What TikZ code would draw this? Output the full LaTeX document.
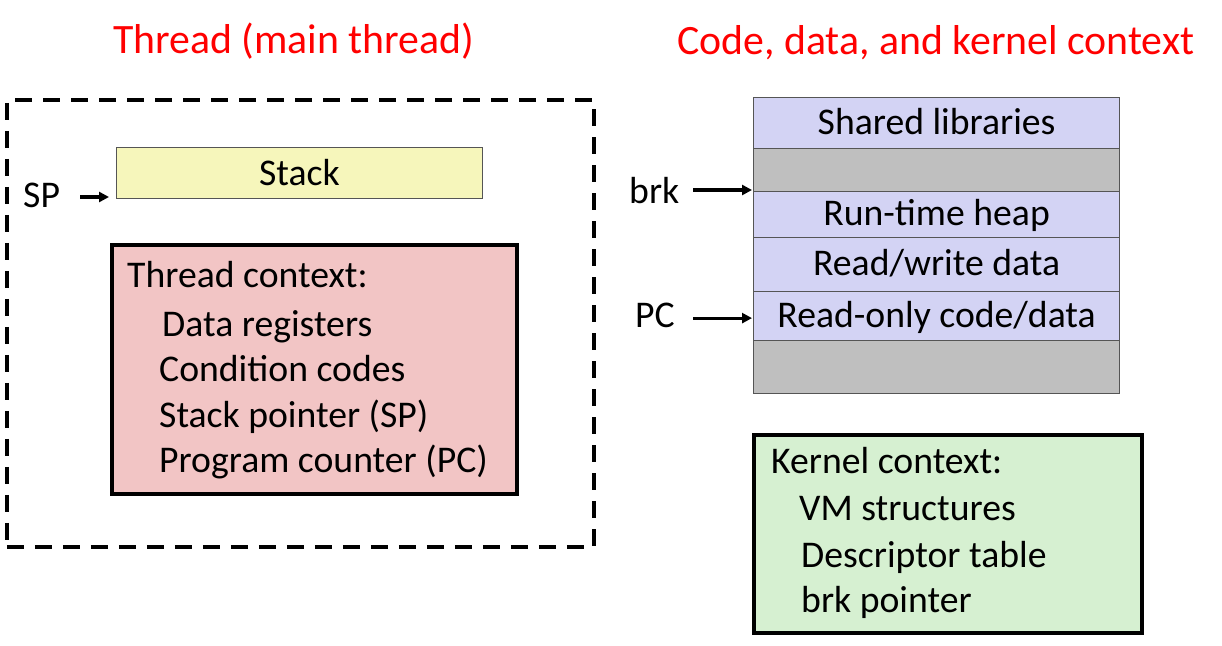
\documentclass[tikz,border=0pt]{standalone}
\usepackage{fontspec}
\setmainfont{Carlito}
\usetikzlibrary{arrows.meta}
\definecolor{titlered}{HTML}{FF0000}
\definecolor{stackfill}{HTML}{F6F6BB}
\definecolor{threadfill}{HTML}{F2C5C5}
\definecolor{memfill}{HTML}{D3D3F4}
\definecolor{gapfill}{HTML}{BFBFBF}
\definecolor{kernfill}{HTML}{D6F0D1}
\definecolor{thinline}{HTML}{555555}
\begin{document}
\begin{tikzpicture}[x=1pt,y=-1pt,
  body/.style={font=\fontsize{37.7}{42}\selectfont, inner sep=0pt},
  txt/.style={body, anchor=base west},
  ttl/.style={font=\fontsize{41.8}{46}\selectfont, text=titlered, inner sep=0pt, anchor=base west},
  memrow/.style={draw=thinline, line width=1.2pt, fill=memfill, anchor=north west, minimum width=366pt, inner sep=0pt, body, text height=25pt, text depth=3pt},
  gaprow/.style={memrow, fill=gapfill},
  ctxbox/.style={draw=black, line width=3.5pt, anchor=north west, inner sep=0pt},
  arr/.style={line width=3.2pt, -{Triangle[length=10pt,width=10pt]}}
]
\useasboundingbox (0,0) rectangle (1222,645);

% titles
\node[ttl] (t1) at (113,53) {Thread (main thread)};
\node[ttl] (t2) at (677,54) {Code, data, and kernel context};

% left: thread
\node[draw=black, line width=3.5pt, dash pattern=on 17pt off 11pt, anchor=north west, minimum width=587pt, minimum height=447pt, inner sep=0pt] (thread) at (5,98) {};
\node[draw=thinline, line width=1pt, fill=stackfill, anchor=north west, minimum width=366pt, minimum height=51pt, inner sep=0pt, body, text height=25pt, text depth=0pt] (stack) at (116,147) {Stack};
\node[txt] (sp) at (23,207) {SP};
\draw[arr] ([xshift=-36pt,yshift=2pt]stack.south west) -- ([xshift=-7pt,yshift=2pt]stack.south west);

\node[ctxbox, fill=threadfill, minimum width=405pt, minimum height=249pt] (tctx) at (110,243) {};
\node[txt] (tc0) at (127,287) {Thread context:};
\node[txt] (tc1) at (162,336) {Data registers};
\node[txt] (tc2) at (159,381) {Condition codes};
\node[txt] (tc3) at (159,427) {Stack pointer (SP)};
\node[txt] (tc4) at (159,472) {Program counter (PC)};

% right: memory
\node[memrow, minimum height=51pt] (shlib) at (753,97) {Shared libraries};
\node[gaprow, minimum height=43pt] (gap1) at (753,148) {};
\node[memrow, minimum height=46pt] (heap) at (753,191) {Run-time heap};
\node[memrow, minimum height=54pt] (rw) at (753,237) {Read/write data};
\node[memrow, minimum height=49pt] (ro) at (753,291) {Read-only code/data};
\node[gaprow, minimum height=53pt] (gap2) at (753,340) {};

\node[txt] (brk) at (629,203) {brk};
\node[txt] (pc) at (635,327) {PC};
\draw[arr] ([xshift=-60pt,yshift=1pt]heap.north west) -- ([xshift=-1pt,yshift=1pt]heap.north west);
\draw[arr] ([xshift=-60pt,yshift=-2pt]ro.west) -- ([xshift=-1pt,yshift=-2pt]ro.west);

% kernel context
\node[ctxbox, fill=kernfill, minimum width=388pt, minimum height=198pt] (kctx) at (752,433) {};
\node[txt] (kc0) at (771,473) {Kernel context:};
\node[txt] (kc1) at (799,520) {VM structures};
\node[txt] (kc2) at (801,567) {Descriptor table};
\node[txt] (kc3) at (801,612) {brk pointer};
\end{tikzpicture}
\end{document}
